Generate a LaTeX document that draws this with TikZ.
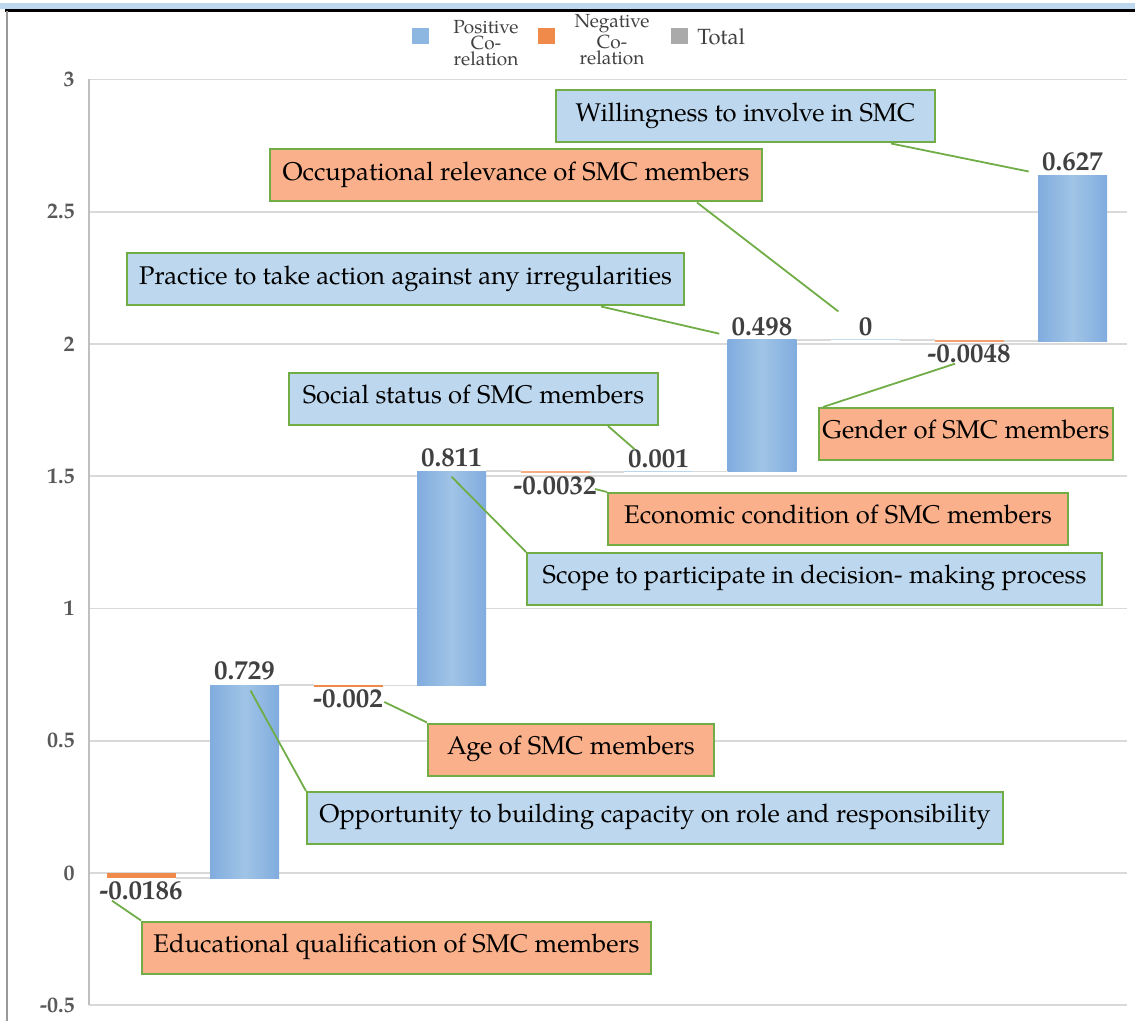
\documentclass[tikz,border=0pt]{standalone}
\usepackage{fontspec}
\setmainfont{texgyrepagella}[Extension=.otf, UprightFont=*-regular, BoldFont=*-bold]
\usetikzlibrary{positioning, calc}

\definecolor{posblue}{RGB}{160,196,230}
\definecolor{posedge}{RGB}{128,172,222}
\definecolor{negorange}{RGB}{240,138,75}
\definecolor{boxblue}{RGB}{189,215,238}
\definecolor{boxorange}{RGB}{250,176,138}
\definecolor{leadgreen}{RGB}{112,173,71}
\definecolor{gridgray}{RGB}{217,217,217}
\definecolor{labgray}{RGB}{64,64,64}
\definecolor{tickgray}{RGB}{89,89,89}
\definecolor{totgray}{RGB}{170,170,170}

\tikzset{
  callout/.style={draw=leadgreen, line width=1pt, inner xsep=0pt, inner ysep=0pt,
    text height=15.3pt, text depth=10.7pt, align=center, font=\fontsize{12.8}{15}\selectfont},
  posbox/.style={callout, fill=boxblue},
  negbox/.style={callout, fill=boxorange},
  vallabel/.style={inner sep=0pt, text=labgray, font=\fontsize{13.5}{15}\selectfont\bfseries},
  ticklabel/.style={inner sep=0pt, anchor=east, text=tickgray, font=\fontsize{11}{12}\selectfont\bfseries},
  legtext/.style={inner sep=0pt, align=center, text=labgray, font=\fontsize{9.5}{8}\selectfont},
  leader/.style={draw=leadgreen, line width=0.9pt},
  posbar/.style={left color=posedge, right color=posedge, middle color=posblue},
  linkline/.style={draw=gridgray, line width=0.8pt},
}

\begin{document}
\begin{tikzpicture}[x=0.5pt, y=-0.5pt]
  \useasboundingbox (0,0) rectangle (1135,1021);

  % window frame
  \fill[boxblue] (0,3) rectangle (1135,9);
  \draw[black, line width=1.2pt] (5,10.5) -- (1135,10.5);
  \draw[black!40, line width=1pt] (7,11) -- (7,1021);

  % legend
  \fill[posedge!60!posblue] (412,28) rectangle (429,44);
  \node[legtext] (lgPos) at (486,43) {Positive\\Co-\\relation};
  \fill[negorange] (538,28) rectangle (555,44);
  \node[legtext] (lgNeg) at (612,40) {Negative\\Co-\\relation};
  \fill[totgray] (671,28) rectangle (688,44);
  \node[legtext, anchor=west, font=\fontsize{11}{12}\selectfont] (lgTot) at (697,37) {Total};

  % grid and axis
  \foreach \v/\yy [count=\i] in {3/79.5, 2.5/211.75, 2/344, 1.5/476.25, 1/608.5, 0.5/740.75, 0/873, -0.5/1005.25} {
    \draw[gridgray, line width=0.8pt] (89,\yy) -- (1127,\yy);
    \node[ticklabel] (tick\i) at (75,\yy) {\v};
  }
  \draw[black!25, line width=1.2pt] (89,79.5) -- (89,1005.25);

  % bars
  \fill[negorange] (106.5,873) rectangle (175.5,878);
  \shade[posbar] (210,878) rectangle (279,685.1);
  \fill[negorange] (313.5,685.1) rectangle (382.5,686.6);
  \shade[posbar] (417,685.6) rectangle (486,471.1);
  \fill[negorange!70] (520.5,471.1) rectangle (589.5,472.6);
  \fill[posblue!70] (624,472) rectangle (693,470.7);
  \shade[posbar] (727.5,471.7) rectangle (796.5,340);
  \fill[posblue!60] (831,340.5) rectangle (900,339.2);
  \fill[negorange!80] (934.5,340) rectangle (1003.5,341.8);
  \shade[posbar] (1038,341.25) rectangle (1107,175.4);

  % links between bars
  \foreach \xa/\xb/\yy in {175.5/210/878, 279/313.5/685.1, 382.5/417/685.6, 486/520.5/471.1,
      589.5/624/472, 693/727.5/471.7, 796.5/831/340, 900/934.5/340, 1003.5/1038/341.25}
    \draw[linkline] (\xa,\yy) -- (\xb,\yy);

  % values
  \node[vallabel] (vEdu) at (141,891) {-0.0186};
  \node[vallabel] (vOpp) at (244.5,671) {0.729};
  \node[vallabel] (vAge) at (348,699) {-0.002};
  \node[vallabel] (vSco) at (451.5,458) {0.811};
  \node[vallabel] (vEco) at (555,486) {-0.0032};
  \node[vallabel] (vSoc) at (658.5,459) {0.001};
  \node[vallabel] (vPra) at (762,327) {0.498};
  \node[vallabel] (vOcc) at (865.5,327) {0};
  \node[vallabel] (vGen) at (969,354) {-0.0048};
  \node[vallabel] (vWil) at (1072.5,162) {0.627};

  % callouts
  \node[posbox, minimum width=189.5pt] (bWil) at (745.5,116.5) {Willingness to involve in SMC};
  \node[negbox, minimum width=246pt] (bOcc) at (516,175.5) {Occupational relevance of SMC members};
  \node[posbox, minimum width=278.5pt] (bPra) at (405.5,279.5) {Practice to take action against any irregularities};
  \node[posbox, minimum width=184.5pt] (bSoc) at (473.5,399) {Social status of SMC members};
  \node[negbox, minimum width=147pt] (bGen) at (966,434) {Gender of SMC members};
  \node[negbox, minimum width=230pt] (bEco) at (838,519) {Economic condition of SMC members};
  \node[posbox, minimum width=287.5pt] (bSco) at (814.5,579) {Scope to participate in decision- making process};
  \node[negbox, minimum width=143pt] (bAge) at (571,749.5) {Age of SMC members};
  \node[posbox, minimum width=348pt] (bOpp) at (655,818) {Opportunity to building capacity on role and responsibility};
  \node[negbox, minimum width=254.5pt] (bEdu) at (396.5,947.5) {Educational qualification of SMC members};

  % leader lines
  \draw[leader] ($(vEdu.south west)+(13,0)$) -- (bEdu.north west);
  \draw[leader] ($(vOpp.south)+(6,10)$) -- (bOpp.north west);
  \draw[leader] ($(vAge.east)+(1,3)$) -- (bAge.north west);
  \draw[leader] ($(vSco.south)+(0,9)$) -- (bSco.north west);
  \draw[leader] ($(vEco.east)+(-2,3)$) -- (bEco.north west);
  \draw[leader] ($(bSoc.south east)+(-51,0)$) -- ($(vSoc.north west)+(7,0)$);
  \draw[leader] ($(bPra.south east)+(-84,0)$) -- ($(vPra.south west)+(-12,-3)$);
  \draw[leader] ($(bOcc.south east)+(-66,0)$) -- ($(vOcc.north west)+(-20,-6)$);
  \draw[leader] ($(bGen.north west)+(5,0)$) -- ($(vGen.south)+(-14,0)$);
  \draw[leader] ($(bWil.south east)+(-45,0)$) -- ($(vWil.south west)+(-13,0)$);
\end{tikzpicture}
\end{document}
